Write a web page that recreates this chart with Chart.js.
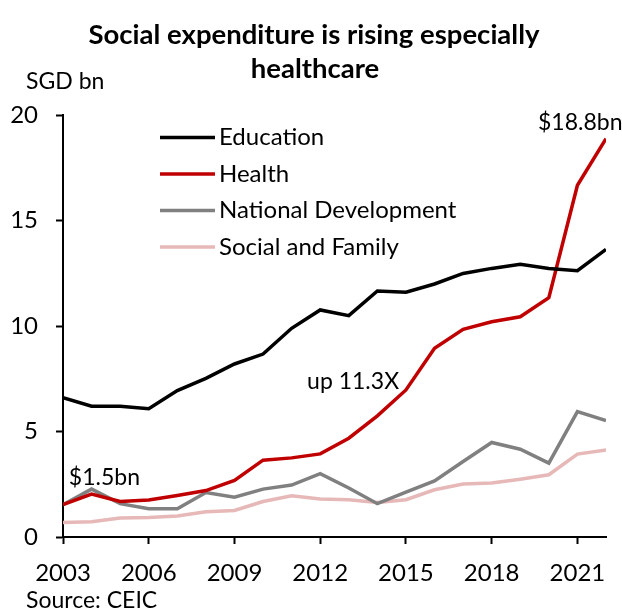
<!DOCTYPE html>
<html>
<head>
<meta charset="utf-8">
<script src="https://cdn.jsdelivr.net/npm/chart.js@4"></script>
<style>
  html, body { margin: 0; padding: 0; background: #fff; }
  #wrap { position: relative; width: 622px; height: 612px; }
</style>
</head>
<body>
<div id="wrap"><canvas id="chart" width="622" height="612"></canvas></div>
<script>
// Data (SGD bn)
const years = [2003,2004,2005,2006,2007,2008,2009,2010,2011,2012,2013,2014,2015,2016,2017,2018,2019,2020,2021,2022];
const education = [6.6,6.2,6.2,6.08,6.94,7.52,8.2,8.67,9.89,10.76,10.49,11.66,11.6,11.99,12.49,12.73,12.92,12.73,12.62,13.63];
const health = [1.53,2.03,1.68,1.75,1.97,2.2,2.68,3.64,3.75,3.94,4.68,5.74,6.97,8.94,9.84,10.2,10.44,11.34,16.67,18.88];
const nationalDev = [1.53,2.27,1.58,1.34,1.34,2.11,1.89,2.27,2.46,3.0,2.32,1.58,2.13,2.66,3.58,4.48,4.16,3.5,5.94,5.52];
const socialFamily = [0.69,0.72,0.9,0.93,1.0,1.2,1.26,1.68,1.95,1.8,1.77,1.64,1.77,2.24,2.51,2.56,2.74,2.95,3.93,4.13];
const xTicks = [2003,2006,2009,2012,2015,2018,2021];
const yTicks = [0,5,10,15,20];

const FONT = 'Lato, "Open Sans", sans-serif';

const toPoints = arr => arr.map((v, i) => ({ x: years[i], y: v }));

// text notes placed in data coordinates
const notes = [
  { text: '$1.5bn', x: 2004.45, y: 2.8 },
  { text: 'up 11.3X', x: 2013.15, y: 7.38 },
  { text: '$18.8bn', x: 2021.1, y: 19.64 }
];

const extras = {
  id: 'extras',
  afterDraw(chart) {
    const ctx = chart.ctx;
    const xs = chart.scales.x, ys = chart.scales.y;
    ctx.save();
    ctx.fillStyle = '#000';
    ctx.textBaseline = 'middle';

    // title
    ctx.textAlign = 'center';
    ctx.font = 'bold 27.5px ' + FONT;
    ctx.fillText('Social expenditure is rising especially', 314, 35);
    ctx.fillText('healthcare', 315, 69);

    // unit label and source
    ctx.textAlign = 'left';
    ctx.font = '23px ' + FONT;
    ctx.fillText('SGD bn', 26, 82);
    ctx.fillText('Source: CEIC', 26, 601);

    // notes
    ctx.textAlign = 'center';
    notes.forEach(n => {
      ctx.fillText(n.text, xs.getPixelForValue(n.x), ys.getPixelForValue(n.y));
    });

    // legend
    ctx.textAlign = 'left';
    ctx.font = '24px ' + FONT;
    chart.data.datasets.forEach((ds, i) => {
      const y = 137.5 + i * 36.5;
      ctx.strokeStyle = ds.borderColor;
      ctx.lineWidth = 3.5;
      ctx.beginPath();
      ctx.moveTo(160, y);
      ctx.lineTo(215, y);
      ctx.stroke();
      ctx.fillText(ds.label, 219, y);
    });
    ctx.restore();
  }
};

const mk = (label, data, color) => ({
  label: label,
  data: toPoints(data),
  borderColor: color,
  backgroundColor: color,
  borderWidth: 3.5,
  pointRadius: 0,
  tension: 0,
  fill: false
});

new Chart(document.getElementById('chart'), {
  type: 'line',
  data: {
    datasets: [
      mk('Education', education, '#000000'),
      mk('Health', health, '#C00000'),
      mk('National Development', nationalDev, '#808080'),
      mk('Social and Family', socialFamily, '#E6B8B7')
    ]
  },
  options: {
    responsive: false,
    animation: false,
    layout: { padding: { top: 115, right: 16, left: 0, bottom: 0 } },
    plugins: { legend: { display: false }, title: { display: false }, tooltip: { enabled: false } },
    scales: {
      x: {
        type: 'linear',
        min: years[0],
        max: years[years.length - 1],
        afterBuildTicks: s => { s.ticks = xTicks.map(v => ({ value: v })); },
        afterFit: s => { s.height = 75; },
        grid: { drawOnChartArea: false, tickLength: 7, tickColor: '#000', tickWidth: 2 },
        border: { color: '#000', width: 2 },
        ticks: { color: '#000', font: { family: FONT, size: 24 }, padding: 15, maxRotation: 0, autoSkip: false, callback: v => String(v) }
      },
      y: {
        min: 0,
        max: 20,
        afterBuildTicks: s => { s.ticks = yTicks.map(v => ({ value: v })); },
        afterFit: s => { s.width = 63; },
        grid: { drawOnChartArea: false, tickLength: 7, tickColor: '#000', tickWidth: 2 },
        border: { color: '#000', width: 2 },
        ticks: { color: '#000', font: { family: FONT, size: 24 }, padding: 18 }
      }
    }
  },
  plugins: [extras]
});
</script>
</body>
</html>
